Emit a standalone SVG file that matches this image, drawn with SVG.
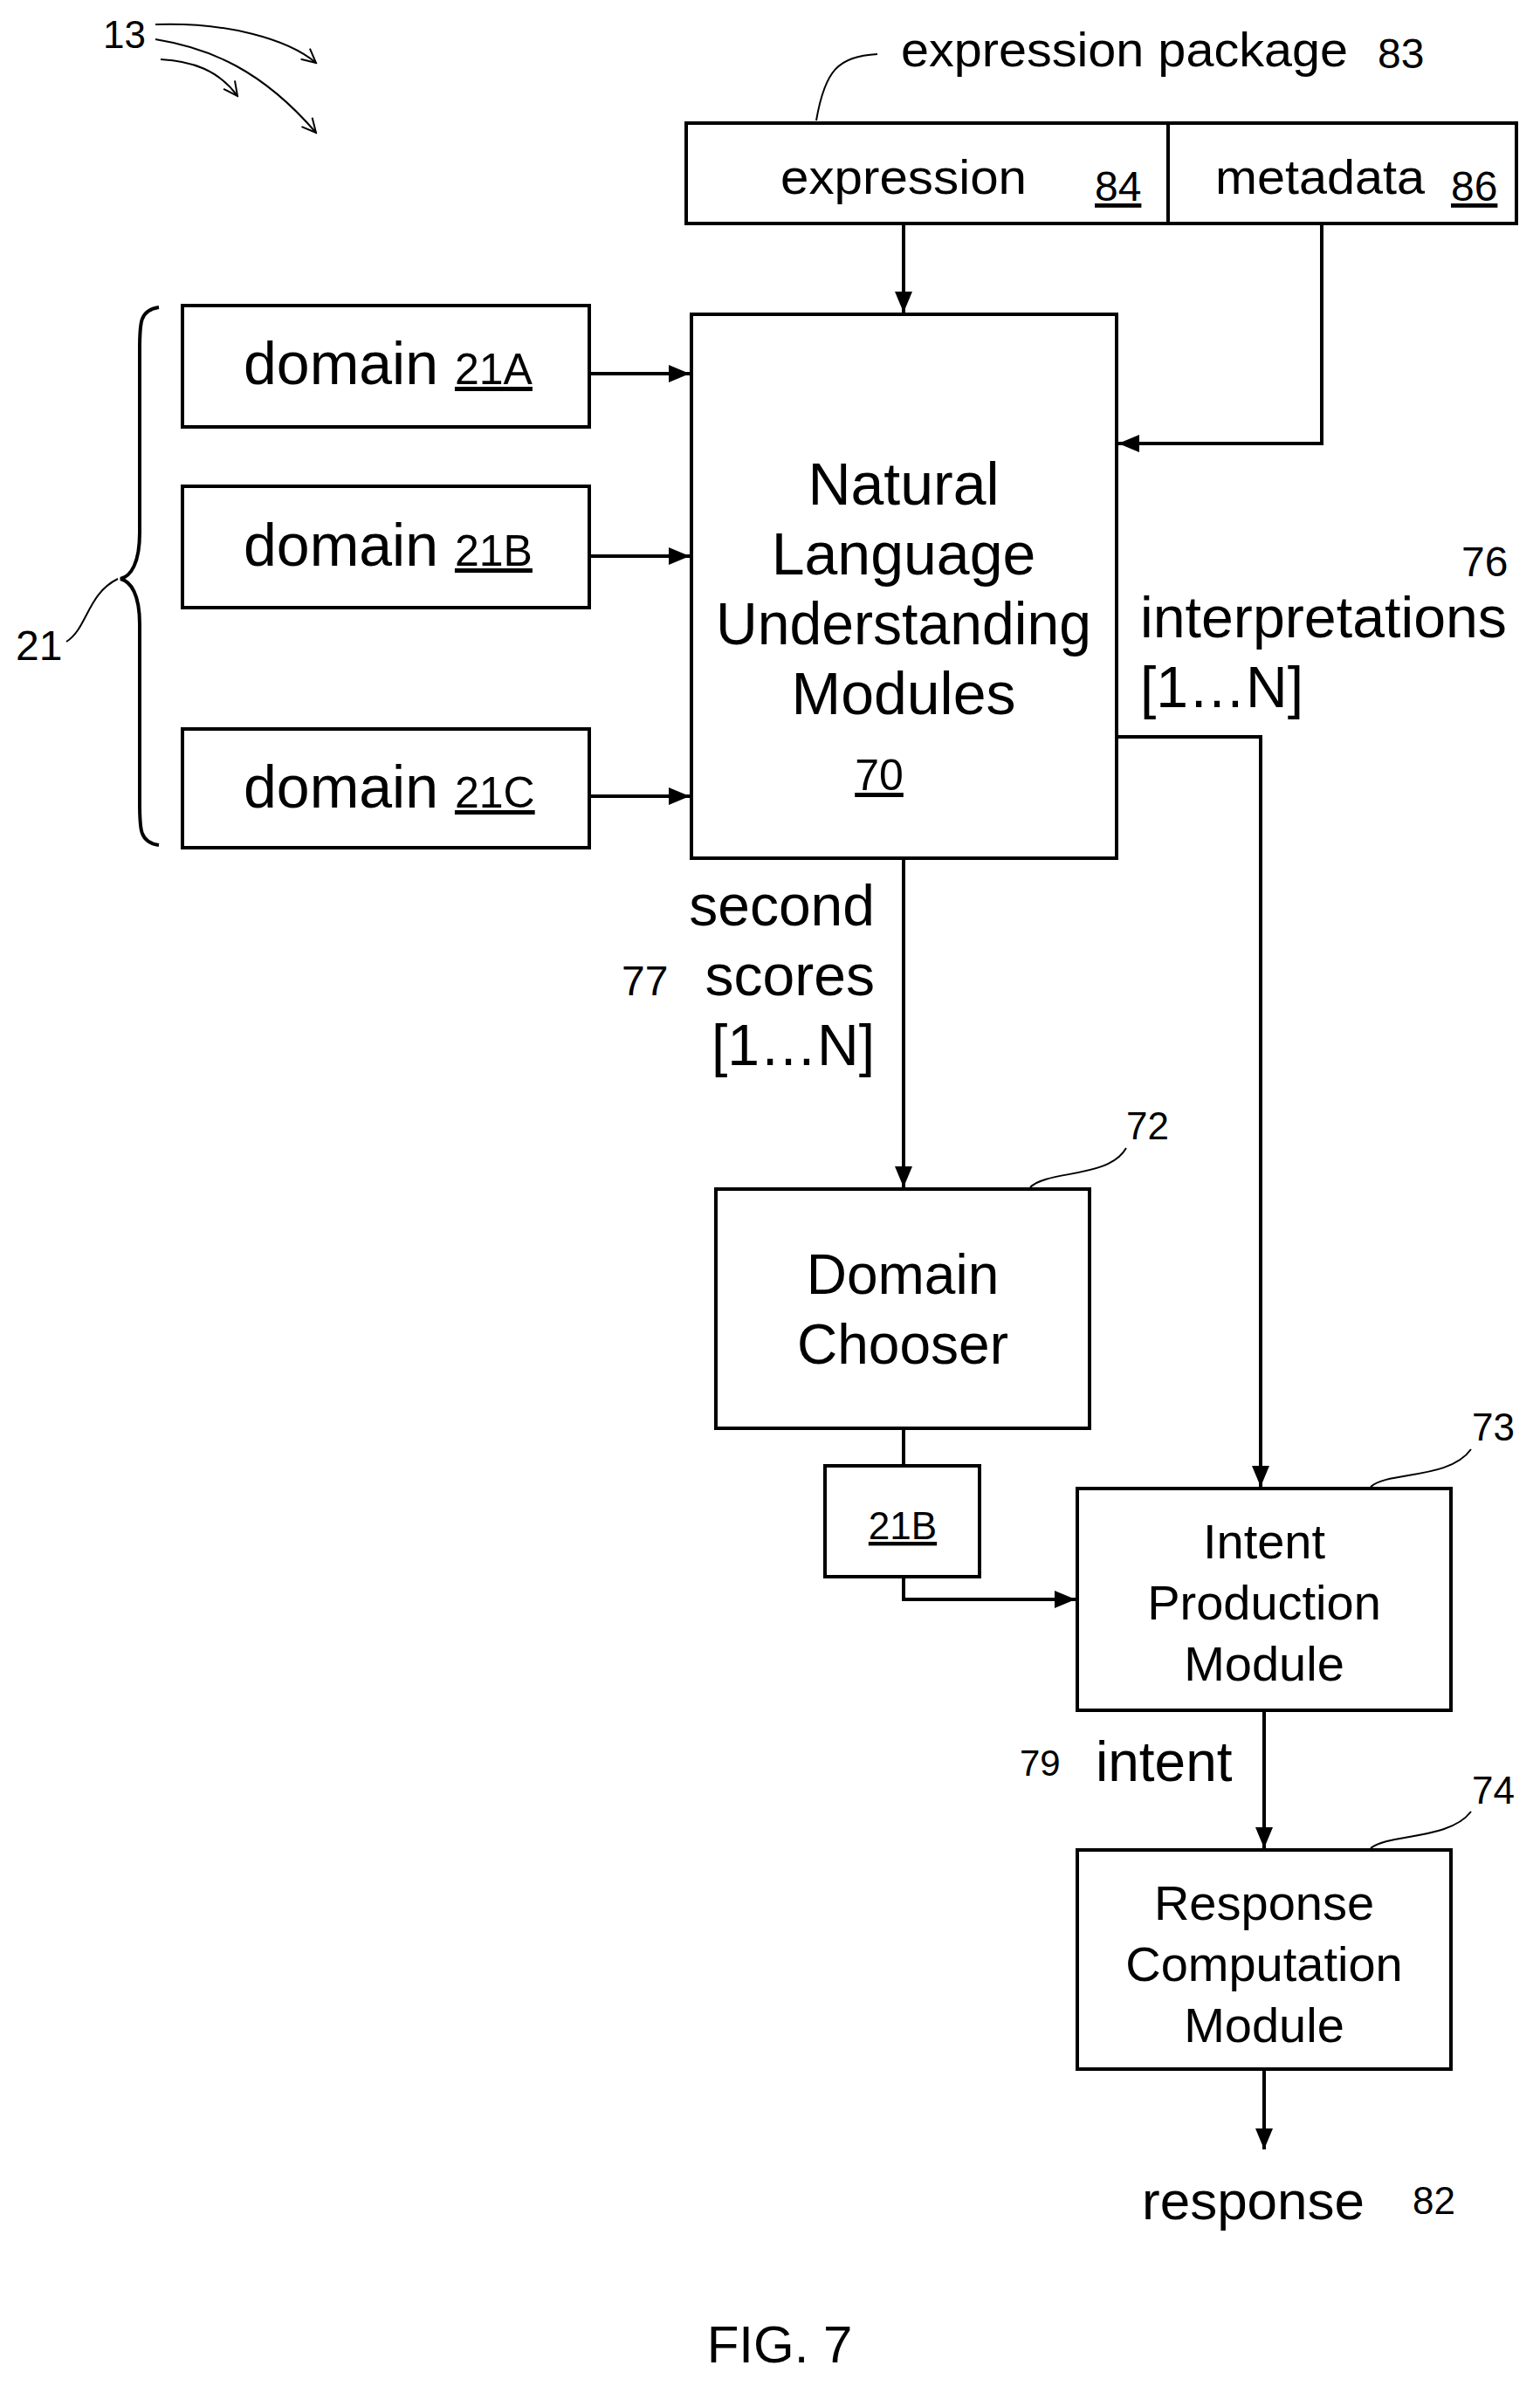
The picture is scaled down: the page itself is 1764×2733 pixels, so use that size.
<svg xmlns="http://www.w3.org/2000/svg" width="1764" height="2733" viewBox="0 0 1764 2733">
<defs>
<marker id="ah" markerWidth="20" markerHeight="20" refX="18" refY="10" orient="auto" markerUnits="userSpaceOnUse" viewBox="0 0 20 20"><path d="M2,2 L18,10 L2,18" fill="none" stroke="#000" stroke-width="2"/></marker>
<marker id="ah2" markerWidth="26" markerHeight="26" refX="24" refY="13" orient="auto" markerUnits="userSpaceOnUse" viewBox="0 0 26 26"><path d="M0,3 L24,13 L0,23 z" fill="#000"/></marker>
<style>
.box{fill:#fff;stroke:#000;stroke-width:4}
.ln{fill:none;stroke:#000;stroke-width:4}
.th{fill:none;stroke:#000;stroke-width:2}
.n{font-family:"Liberation Sans Narrow","Liberation Sans",sans-serif;fill:#000}
.s{font-family:"Liberation Sans",Arial,sans-serif;fill:#000}
.u{text-decoration:underline}
</style>
</defs>
<g id="ref13">
<text class="n" x="118" y="55" font-size="44">13</text>
<path class="th" d="M178,28 C260,25 330,45 362,72" marker-end="url(#ah)"/>
<path class="th" d="M178,45 C240,55 300,80 362,152" marker-end="url(#ah)"/>
<path class="th" d="M184,68 C220,70 250,80 272,110" marker-end="url(#ah)"/>
</g>
<g id="connectors">
<path class="ln" d="M1035,256 V358" marker-end="url(#ah2)"/>
<path class="ln" d="M1514,256 V508 H1281" marker-end="url(#ah2)"/>
<path class="ln" d="M675,428 H790" marker-end="url(#ah2)"/>
<path class="ln" d="M675,637 H790" marker-end="url(#ah2)"/>
<path class="ln" d="M675,912 H790" marker-end="url(#ah2)"/>
<path class="ln" d="M1279,844 H1444 V1703" marker-end="url(#ah2)"/>
<path class="ln" d="M1035,983 V1360" marker-end="url(#ah2)"/>
<path class="ln" d="M1035,1636 V1679"/>
<path class="ln" d="M1035,1806 V1832 H1232" marker-end="url(#ah2)"/>
<path class="ln" d="M1448,1959 V2117" marker-end="url(#ah2)"/>
<path class="ln" d="M1448,2370 V2462" marker-end="url(#ah2)"/>
</g>
<g id="expression-package">
<rect class="box" x="786" y="141" width="951" height="115"/>
<line class="ln" x1="1338" y1="141" x2="1338" y2="256"/>
<path class="th" d="M935,138 C945,80 960,65 1005,62"/>
<text class="n" x="1032" y="76" font-size="56" textLength="512" lengthAdjust="spacingAndGlyphs">expression package</text>
<text class="n" x="1578" y="78" font-size="48">83</text>
<text class="n" x="894" y="222" font-size="56" textLength="282" lengthAdjust="spacingAndGlyphs">expression</text>
<text class="n u" x="1254" y="230" font-size="48">84</text>
<text class="n" x="1392" y="222" font-size="56" textLength="240" lengthAdjust="spacingAndGlyphs">metadata</text>
<text class="n u" x="1662" y="230" font-size="48">86</text>
</g>
<g id="nlu">
<rect class="box" x="792" y="360" width="487" height="623"/>
<g class="n" font-size="68" text-anchor="middle">
<text x="1035" y="578">Natural</text>
<text x="1035" y="658">Language</text>
<text x="1035" y="738" textLength="430" lengthAdjust="spacingAndGlyphs">Understanding</text>
<text x="1035" y="818">Modules</text>
</g>
<text class="n u" x="1007" y="905" font-size="50" text-anchor="middle">70</text>
</g>
<g id="domain21A"><rect class="box" x="209" y="350" width="466" height="139"/>
<text class="n" x="279" y="440" font-size="68">domain <tspan font-size="50" class="u">21A</tspan></text></g>
<g id="domain21B"><rect class="box" x="209" y="557" width="466" height="139"/>
<text class="n" x="279" y="648" font-size="68">domain <tspan font-size="50" class="u">21B</tspan></text></g>
<g id="domain21C"><rect class="box" x="209" y="835" width="466" height="136"/>
<text class="n" x="279" y="925" font-size="68">domain <tspan font-size="50" class="u">21C</tspan></text></g>
<g id="brace21">
<path class="ln" d="M182,352 C160,355 160,370 160,400 V610 C160,645 150,660 138,663 C150,666 160,681 160,715 V920 C160,950 160,965 182,968"/>
<path class="th" d="M76,735 C100,720 100,680 135,663"/>
<text class="n" x="18" y="756" font-size="48">21</text>
</g>
<g id="labels">
<text class="n" x="1674" y="660" font-size="48">76</text>
<text class="n" x="1306" y="730" font-size="66" textLength="420" lengthAdjust="spacingAndGlyphs">interpretations</text>
<text class="n" x="1306" y="810" font-size="66">[1…N]</text>
<g class="n" font-size="66" text-anchor="end">
<text x="1002" y="1060">second</text>
<text x="1002" y="1140">scores</text>
<text x="1002" y="1220">[1…N]</text>
</g>
<text class="n" x="712" y="1140" font-size="48">77</text>
<text class="s" x="1255" y="2040" font-size="64">intent</text>
<text class="s" x="1168" y="2034" font-size="42">79</text>
<text class="s" x="1308" y="2542" font-size="62">response</text>
<text class="s" x="1618" y="2536" font-size="44">82</text>
<text class="s" x="893" y="2706" font-size="60" text-anchor="middle">FIG. 7</text>
</g>
<g id="domain-chooser">
<rect class="box" x="820" y="1362" width="428" height="274"/>
<path class="th" d="M1180,1360 C1200,1340 1270,1350 1290,1315"/>
<text class="s" x="1290" y="1305" font-size="44">72</text>
<g class="s" font-size="64" text-anchor="middle"><text x="1034" y="1482">Domain</text><text x="1034" y="1562">Chooser</text></g>
</g>
<g id="box21B">
<rect class="box" x="945" y="1679" width="177" height="127"/>
<text class="s u" x="1034" y="1763" font-size="44" text-anchor="middle">21B</text>
</g>
<g id="intent-production">
<rect class="box" x="1234" y="1705" width="428" height="254"/>
<path class="th" d="M1570,1703 C1590,1685 1660,1695 1685,1660"/>
<text class="s" x="1686" y="1650" font-size="44">73</text>
<g class="s" font-size="56" text-anchor="middle"><text x="1448" y="1785">Intent</text><text x="1448" y="1855">Production</text><text x="1448" y="1925">Module</text></g>
</g>
<g id="response-computation">
<rect class="box" x="1234" y="2119" width="428" height="251"/>
<path class="th" d="M1570,2117 C1590,2100 1660,2108 1685,2075"/>
<text class="s" x="1686" y="2066" font-size="44">74</text>
<g class="s" font-size="56" text-anchor="middle"><text x="1448" y="2199">Response</text><text x="1448" y="2269">Computation</text><text x="1448" y="2339">Module</text></g>
</g>
</svg>
